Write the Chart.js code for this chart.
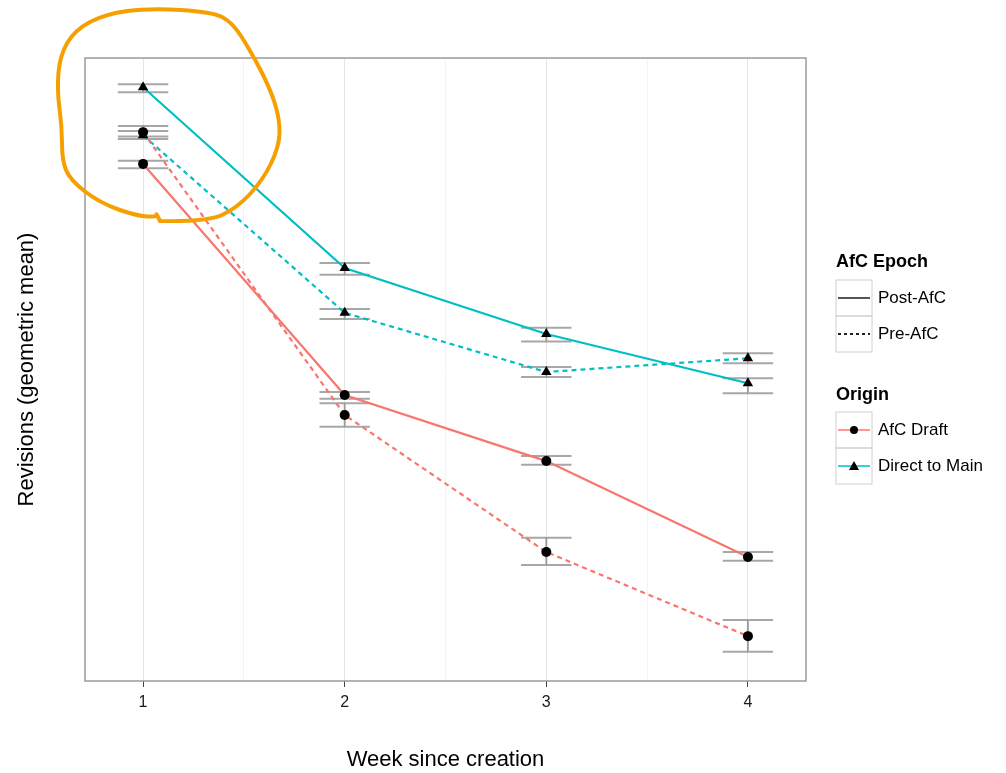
<!DOCTYPE html>
<html>
<head>
<meta charset="utf-8">
<script src="https://cdn.jsdelivr.net/npm/chart.js@4/dist/chart.umd.min.js"></script>
<style>
  html, body { margin: 0; padding: 0; background: #fff; }
  #myChart { display: block; }
</style>
</head>
<body>
<canvas id="myChart" width="1006" height="773"></canvas>
<script>
// values (y axis has no labels, arbitrary log-ish units 0..100)
const weeks = [1, 2, 3, 4];

const postDirect = [95.3, 66.3, 55.7, 47.8];
const postDirectLo = [94.5, 65.2, 54.5, 46.2];
const postDirectHi = [95.8, 67.1, 56.7, 48.6];

const preDirect = [87.6, 59.1, 49.6, 51.8];
const preDirectLo = [87.0, 58.1, 48.8, 51.0];
const preDirectHi = [88.3, 59.7, 50.4, 52.6];

const postDraft = [83.0, 45.9, 35.3, 19.9];
const postDraftLo = [82.3, 45.3, 34.7, 19.3];
const postDraftHi = [83.5, 46.4, 36.1, 20.7];

const preDraft = [88.1, 42.7, 20.7, 7.2];
const preDraftLo = [87.4, 40.8, 18.6, 4.7];
const preDraftHi = [89.1, 44.6, 23.0, 9.8];

const RED = "#F8766D";
const CYAN = "#00BFC4";
const FONT = "'Liberation Sans', Arial, sans-serif";

function toPoints(values) {
  return weeks.map((w, i) => ({ x: w, y: values[i] }));
}

const errorBars = [
  { lo: preDraftLo, hi: preDraftHi },
  { lo: postDraftLo, hi: postDraftHi },
  { lo: preDirectLo, hi: preDirectHi },
  { lo: postDirectLo, hi: postDirectHi },
];

const panelPlugin = {
  id: "panel",
  beforeDatasetsDraw(chart) {
    const { ctx, scales } = chart;
    const x = scales.x;
    const y = scales.y;
    ctx.save();
    ctx.strokeStyle = "rgba(80,80,80,0.5)";
    ctx.lineWidth = 2;
    errorBars.forEach((bar) => {
      weeks.forEach((w, i) => {
        const px = x.getPixelForValue(w);
        const left = x.getPixelForValue(w - 0.125);
        const right = x.getPixelForValue(w + 0.125);
        const top = y.getPixelForValue(bar.hi[i]);
        const bottom = y.getPixelForValue(bar.lo[i]);
        ctx.beginPath();
        ctx.moveTo(px, top);
        ctx.lineTo(px, bottom);
        ctx.moveTo(left, top);
        ctx.lineTo(right, top);
        ctx.moveTo(left, bottom);
        ctx.lineTo(right, bottom);
        ctx.stroke();
      });
    });
    ctx.restore();
  },
  afterDraw(chart) {
    const { ctx, chartArea } = chart;
    ctx.save();

    // panel border
    ctx.strokeStyle = "#9a9a9a";
    ctx.lineWidth = 1.5;
    ctx.strokeRect(chartArea.left, chartArea.top,
      chartArea.right - chartArea.left, chartArea.bottom - chartArea.top);

    // legends
    const lx = 836;
    ctx.textBaseline = "middle";
    ctx.fillStyle = "#000";
    ctx.font = "bold 18px " + FONT;
    ctx.fillText("AfC Epoch", lx, 262);
    ctx.fillText("Origin", lx, 395);

    ctx.font = "17px " + FONT;
    const rows = [
      { y: 280, label: "Post-AfC", color: "#555", dash: [], marker: null },
      { y: 316, label: "Pre-AfC", color: "#222", dash: [3, 3], marker: null },
      { y: 412, label: "AfC Draft", color: RED, dash: [], marker: "circle" },
      { y: 448, label: "Direct to Main", color: CYAN, dash: [], marker: "triangle" },
    ];
    rows.forEach((r) => {
      ctx.strokeStyle = "#d0d0d0";
      ctx.lineWidth = 1;
      ctx.setLineDash([]);
      ctx.strokeRect(lx, r.y, 36, 36);
      const cy = r.y + 18;
      ctx.strokeStyle = r.color;
      ctx.lineWidth = r.marker ? 1.5 : 2;
      ctx.setLineDash(r.dash);
      ctx.beginPath();
      ctx.moveTo(lx + 2, cy);
      ctx.lineTo(lx + 34, cy);
      ctx.stroke();
      ctx.setLineDash([]);
      ctx.fillStyle = "#000";
      if (r.marker === "circle") {
        ctx.beginPath();
        ctx.arc(lx + 18, cy, 4, 0, Math.PI * 2);
        ctx.fill();
      } else if (r.marker === "triangle") {
        ctx.beginPath();
        ctx.moveTo(lx + 18, cy - 5);
        ctx.lineTo(lx + 23, cy + 4);
        ctx.lineTo(lx + 13, cy + 4);
        ctx.closePath();
        ctx.fill();
      }
      ctx.fillText(r.label, lx + 42, cy);
    });

    // hand drawn orange loop around week 1
    const loop = [
      [160, 221], [207, 222], [237, 208], [263, 180], [279, 147], [280, 120],
      [270, 88], [250, 50], [232, 22], [212, 12], [150, 8], [105, 14],
      [75, 30], [60, 55], [57, 90], [62, 127], [62, 160], [70, 180],
      [100, 203], [137, 216], [157, 217], [156, 213], [160, 221],
    ];
    ctx.strokeStyle = "#F5A000";
    ctx.lineWidth = 4;
    ctx.lineJoin = "round";
    ctx.lineCap = "round";
    ctx.beginPath();
    ctx.moveTo(loop[0][0], loop[0][1]);
    for (let i = 1; i < loop.length - 1; i++) {
      const mx = (loop[i][0] + loop[i + 1][0]) / 2;
      const my = (loop[i][1] + loop[i + 1][1]) / 2;
      ctx.quadraticCurveTo(loop[i][0], loop[i][1], mx, my);
    }
    ctx.lineTo(loop[loop.length - 1][0], loop[loop.length - 1][1]);
    ctx.stroke();

    ctx.restore();
  },
};

function makeSet(label, values, color, dashed, marker) {
  return {
    label: label,
    data: toPoints(values),
    borderColor: color,
    backgroundColor: "#000",
    borderWidth: 2.2,
    borderDash: dashed ? [5, 4] : [],
    pointStyle: marker,
    pointRadius: marker === "triangle" ? 6 : 5,
    pointBackgroundColor: "#000",
    pointBorderColor: "#000",
    pointBorderWidth: 0,
    tension: 0,
    fill: false,
  };
}

const ctx = document.getElementById("myChart").getContext("2d");
new Chart(ctx, {
  type: "line",
  data: {
    datasets: [
      makeSet("AfC Draft / Pre-AfC", preDraft, RED, true, "circle"),
      makeSet("AfC Draft / Post-AfC", postDraft, RED, false, "circle"),
      makeSet("Direct to Main / Pre-AfC", preDirect, CYAN, true, "triangle"),
      makeSet("Direct to Main / Post-AfC", postDirect, CYAN, false, "triangle"),
    ],
  },
  options: {
    responsive: false,
    animation: false,
    layout: { padding: { top: 58, right: 200, left: 0, bottom: 0 } },
    plugins: {
      legend: { display: false },
      tooltip: { enabled: false },
    },
    scales: {
      x: {
        type: "linear",
        min: 0.712,
        max: 4.288,
        afterFit: (scale) => { scale.height = 92; },
        border: { display: false },
        grid: {
          color: (c) => (c.tick && c.tick.value % 1 === 0 ? "#e6e6e6" : "#f3f3f3"),
          tickColor: (c) => (c.tick && c.tick.value % 1 === 0 ? "#444" : "rgba(0,0,0,0)"),
          tickLength: 6,
          lineWidth: 1,
        },
        ticks: {
          stepSize: 0.5,
          includeBounds: false,
          maxRotation: 0,
          autoSkip: false,
          padding: 6,
          color: "#1a1a1a",
          font: { family: FONT, size: 16 },
          callback: (v) => (v % 1 === 0 ? String(v) : ""),
        },
        title: {
          display: true,
          text: "Week since creation",
          color: "#000",
          font: { family: FONT, size: 22 },
          padding: { top: 0, bottom: 0 },
        },
      },
      y: {
        min: 0,
        max: 100,
        afterFit: (scale) => { scale.width = 85; },
        border: { display: false },
        grid: { display: false },
        ticks: { display: false },
        title: {
          display: true,
          text: "Revisions (geometric mean)",
          color: "#000",
          font: { family: FONT, size: 22 },
          padding: { top: 14, bottom: 0 },
        },
      },
    },
  },
  plugins: [panelPlugin],
});
</script>
</body>
</html>
